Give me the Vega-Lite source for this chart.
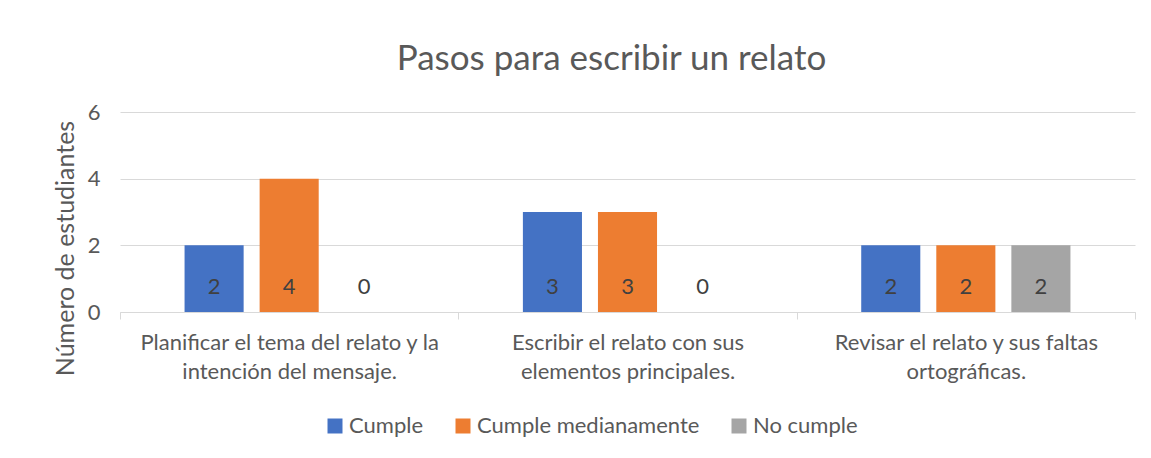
{
  "$schema": "https://vega.github.io/schema/vega-lite/v6.json",
  "autosize": {"type": "none"},
  "width": 1015,
  "height": 200,
  "padding": {"left": 120, "top": 112, "right": 16, "bottom": 146},
  "background": "white",
  "title": {
    "text": "Pasos para escribir un relato",
    "fontSize": 35,
    "font": "Lato",
    "fontWeight": "normal",
    "color": "#595959",
    "anchor": "middle",
    "dx": -16,
    "offset": 24
  },
  "data": {
    "values": [
      {"paso": "Planificar el tema del relato y la|intención del mensaje.", "serie": "Cumple", "valor": 2},
      {"paso": "Planificar el tema del relato y la|intención del mensaje.", "serie": "Cumple medianamente", "valor": 4},
      {"paso": "Planificar el tema del relato y la|intención del mensaje.", "serie": "No cumple", "valor": 0},
      {"paso": "Escribir el relato con sus|elementos principales.", "serie": "Cumple", "valor": 3},
      {"paso": "Escribir el relato con sus|elementos principales.", "serie": "Cumple medianamente", "valor": 3},
      {"paso": "Escribir el relato con sus|elementos principales.", "serie": "No cumple", "valor": 0},
      {"paso": "Revisar el relato y sus faltas|ortográficas.", "serie": "Cumple", "valor": 2},
      {"paso": "Revisar el relato y sus faltas|ortográficas.", "serie": "Cumple medianamente", "valor": 2},
      {"paso": "Revisar el relato y sus faltas|ortográficas.", "serie": "No cumple", "valor": 2}
    ]
  },
  "encoding": {
    "x": {
      "field": "paso",
      "type": "nominal",
      "sort": null,
      "scale": {"paddingInner": 0, "paddingOuter": 0},
      "axis": {
        "title": null,
        "labelAngle": 0,
        "labelExpr": "split(datum.label, '|')",
        "labelFont": "Lato",
        "labelFontSize": 22,
        "labelColor": "#595959",
        "labelLineHeight": 29,
        "labelPadding": 13,
        "labelLimit": 400,
        "tickBand": "extent",
        "tickColor": "#d9d9d9",
        "tickSize": 7,
        "domainColor": "#d9d9d9",
        "grid": false
      }
    },
    "xOffset": {
      "field": "serie",
      "type": "nominal",
      "scale": {"paddingInner": 0.213, "paddingOuter": 0.86}
    }
  },
  "layer": [
    {
      "mark": {"type": "bar"},
      "encoding": {
        "y": {
          "field": "valor",
          "type": "quantitative",
          "scale": {"domain": [0, 6]},
          "axis": {
            "values": [0, 2, 4, 6],
            "title": "Número de estudiantes",
            "titleFont": "Lato",
            "titleFontSize": 25,
            "titleFontWeight": "normal",
            "titleColor": "#595959",
            "titleAngle": 270,
            "titleAlign": "center",
            "titleBaseline": "middle",
            "titleX": -55,
            "titleY": 136,
            "labelFont": "Lato",
            "labelFontSize": 22,
            "labelColor": "#595959",
            "labelPadding": 20,
            "ticks": false,
            "domain": false,
            "gridColor": "#d9d9d9",
            "gridWidth": 1
          }
        },
        "color": {
          "field": "serie",
          "type": "nominal",
          "scale": {
            "domain": ["Cumple", "Cumple medianamente", "No cumple"],
            "range": ["#4472c4", "#ed7d31", "#a5a5a5"]
          },
          "legend": {
            "title": null,
            "orient": "none",
            "direction": "horizontal",
            "legendX": 204,
            "legendY": 303,
            "symbolType": "square",
            "symbolSize": 225,
            "symbolStrokeWidth": 0,
            "labelFont": "Lato",
            "labelFontSize": 22,
            "labelColor": "#595959",
            "labelOffset": 3,
            "labelLimit": 400,
            "columnPadding": 28
          }
        }
      }
    },
    {
      "mark": {"type": "text", "font": "Lato", "fontSize": 22, "color": "#404040", "baseline": "middle", "dy": -25},
      "encoding": {
        "y": {"datum": 0, "type": "quantitative"},
        "text": {"field": "valor", "type": "quantitative"}
      }
    }
  ],
  "config": {"view": {"stroke": null}}
}
